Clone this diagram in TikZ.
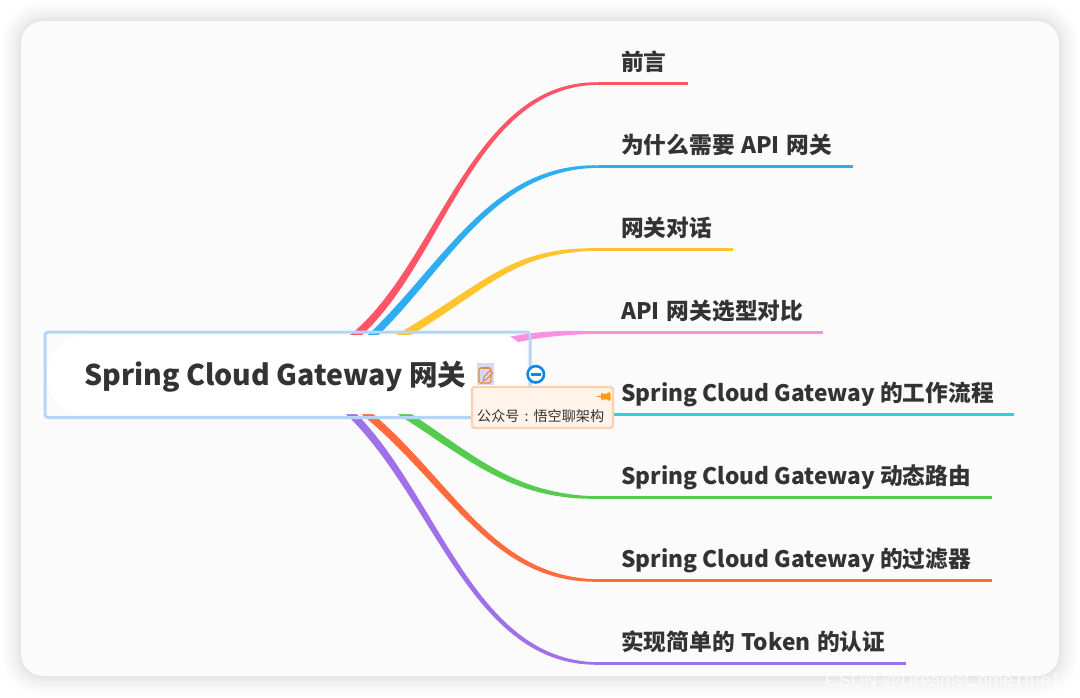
\documentclass[tikz,border=0pt]{standalone}
\usepackage{fontspec}
\setmainfont{Noto Sans CJK SC}
\newfontfamily\wmfont{Liberation Sans}
\usetikzlibrary{calc}
\definecolor{ink}{HTML}{333333}
\definecolor{card}{HTML}{FBFBFB}
\definecolor{rootedge}{HTML}{B5D5F7}
\definecolor{cred}{HTML}{FF5566}
\definecolor{cblue}{HTML}{2EAEF0}
\definecolor{cyellow}{HTML}{FFC42E}
\definecolor{cpink}{HTML}{FF8FE0}
\definecolor{ccyan}{HTML}{38C8EC}
\definecolor{cgreen}{HTML}{55CC4E}
\definecolor{corange}{HTML}{FF6B3D}
\definecolor{cpurple}{HTML}{A070E8}
\definecolor{notefill}{HTML}{FFF3EA}
\definecolor{noteedge}{HTML}{FFD0AE}
\definecolor{pinorange}{HTML}{FF9A12}
\definecolor{iconbg}{HTML}{DAD6F8}
\definecolor{iconline}{HTML}{E08A3C}
\definecolor{minusblue}{HTML}{0F87E6}
\tikzset{
  topic/.style={anchor=base west,inner sep=0pt,text=ink,font=\fontsize{22.7}{23}\selectfont\bfseries},
  roottext/.style={anchor=base west,inner sep=0pt,text=ink,font=\fontsize{28.5}{30}\selectfont\bfseries},
}
\begin{document}
\begin{tikzpicture}[x=1pt,y=-1pt]
\useasboundingbox (0,0) rectangle (1080,697);
\fill[white] (0,0) rectangle (1080,697);
% card shadow
\foreach \i in {1,...,16}{
  \pgfmathsetmacro{\d}{\i*\i/13}
  \fill[black,opacity=0.008,rounded corners=22+\d]
    ({21-\d},{21-\d}) rectangle ({1059+\d},{676+\d});
}
\fill[card,rounded corners=22] (21,21) rectangle (1059,676);
% branches: id/colour/start/first control/second control/normal at start/end y/end x/half width at second control
\foreach \n/\c/\sx/\sy/\ax/\ay/\bx/\nx/\ny/\ey/\fx/\hw in {
  a/cred/350/340/440/270/470/2.3/3.1/83.5/688/3.0,
  b/cblue/368/340/445/268/490/2.1/3.2/166.5/853/3.0,
  c/cyellow/395/340/490/285/510/1.9/3.3/249.5/733/2.8,
  d/cpink/498/343/535/334/560/0.6/3.4/332.5/823/2.2,
  f/cgreen/395/408/470/455/510/-1.9/3.3/497.5/992/2.8,
  g/corange/360/408/450/480/490/-2.1/3.2/580.5/992/3.0,
  h/cpurple/345/408/435/490/470/-2.3/3.1/663.5/906/3.0}{
  \coordinate (s\n) at (\sx,\sy);
  \coordinate (p\n) at (598,\ey);
  \coordinate (e\n) at (\fx,\ey);
  \fill[\c] ($(s\n)+(\nx,\ny)$) .. controls ($(\ax,\ay)+(\nx,\ny)$) and ($(\bx,\ey)+(0,\hw)$) .. ($(p\n)+(0,1.25)$)
    -- ($(p\n)+(0,-1.25)$) .. controls ($(\bx,\ey)+(0,-\hw)$) and ($(\ax,\ay)-(\nx,\ny)$) .. ($(s\n)-(\nx,\ny)$) -- cycle;
  \draw[\c,line width=2.5pt] (p\n) -- (e\n);
}
\coordinate (pe) at (598,414.5);
\coordinate (ee) at (1014,414.5);
\draw[ccyan,line width=2.5pt] (pe) -- (ee);
% root
\node[draw=rootedge,line width=3pt,rounded corners=3,minimum width=485pt,minimum height=85.3pt,inner sep=0pt,outer sep=0pt,anchor=north west] (root) at (45,332.2) {};
\fill[white] (87,335.2) -- (502,335.2) .. controls (516,335.2) and (527,349) .. (527,367) -- (527,383)
  .. controls (527,401) and (516,414.2) .. (502,414.2) -- (87,414.2)
  .. controls (65,414.2) and (47,398) .. (47,375) .. controls (47,352) and (65,335.2) .. (87,335.2) -- cycle;
\node[roottext] (roottitle) at (84,385) {Spring Cloud Gateway 网关};
% note icon
\node[fill=iconbg,minimum width=17pt,minimum height=22pt,inner sep=0pt,outer sep=0pt] (icon) at (485,374) {};
\draw[iconline,line width=1.1pt,rounded corners=1.5] (491,374) -- (491,383) -- (479,383) -- (479,368) -- (482,368);
\draw[iconline,line width=1.1pt,rounded corners=1.5] (488,368) -- (491,368) -- (491,369);
\fill[iconline] (481.5,366.5) rectangle (488.5,369.3);
\draw[iconline,line width=1.1pt] (483,381) -- (484,377) -- (490,370.5) -- (492.5,373) -- (486.5,379.5) -- cycle;
% minus button
\node[circle,draw=minusblue,line width=2.6pt,fill=white,minimum size=16.4pt,inner sep=0pt,outer sep=0pt] (minus) at (535.8,374.3) {};
\draw[minusblue,line width=2.4pt] (531,374.3) -- (540.6,374.3);
% callout
\node[draw=noteedge,fill=notefill,line width=2.4pt,rounded corners=3,minimum width=141pt,minimum height=41pt,inner sep=0pt,outer sep=0pt,anchor=north west] (note) at (472,387) {};
\node[anchor=base west,inner sep=0pt,text=ink,font=\fontsize{14.1}{14.1}\selectfont] (notetext) at (477,421) {公众号\makebox[14.1pt][c]{:}悟空聊架构};
% pin
\fill[pinorange] (595.5,396.5) -- (601,395.7) -- (601,393.5) -- (603,393) -- (603,400) -- (601,399.5) -- (601,397.3) -- cycle;
\fill[pinorange,rounded corners=1] (603,393.5) rectangle (607,399.5);
\fill[pinorange,rounded corners=1] (607,392.3) rectangle (610.5,400.7);
% labels
\node[topic] (ta) at (621,70) {前言};
\node[topic] (tb) at (621,153) {为什么需要\kern1.5pt{} API\kern1.5pt{} 网关};
\node[topic] (tc) at (621,236) {网关对话};
\node[topic] (td) at (621,319) {API\kern2pt{} 网关选型对比};
\node[topic] (te) at (621,401) {Spring Cloud Gateway 的工作流程};
\node[topic] (tf) at (621,484) {Spring Cloud Gateway 动态路由};
\node[topic] (tg) at (621,567) {Spring Cloud Gateway 的过滤器};
\node[topic] (th) at (621,650) {实现简单的\kern1.5pt{} Token\kern1.5pt{} 的认证};
% watermark
\node[anchor=base west,inner sep=0pt,text=white,opacity=0.75,font=\wmfont\fontsize{18.3}{18.3}\selectfont] (mark) at (825,686) {CSDN @DreamsComeTrue1};
\end{tikzpicture}
\end{document}
